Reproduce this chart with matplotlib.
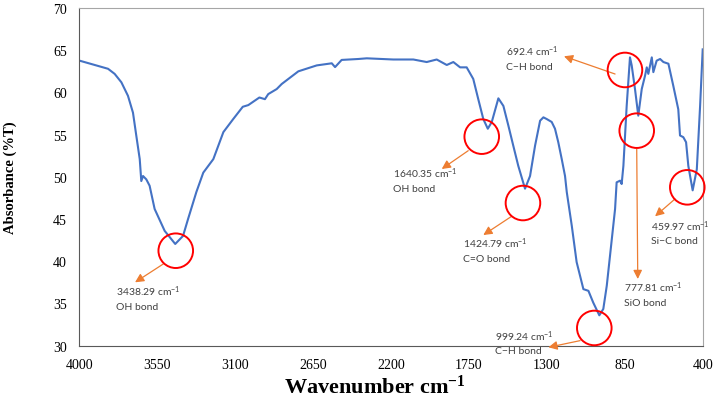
import matplotlib
matplotlib.use('Agg')
import matplotlib.pyplot as plt

# FTIR spectrum
wavenumber = [3998, 3863, 3834, 3796, 3757, 3719, 3690, 3671, 3651, 3642, 3632, 3613,
              3594, 3565, 3507, 3446, 3401, 3372, 3324, 3284, 3226, 3168, 3111, 3056,
              3024, 2960, 2928, 2909, 2860, 2831, 2735, 2629, 2542, 2523, 2485, 2389,
              2340, 2187, 2071, 1994, 1936, 1878, 1840, 1801, 1763, 1725, 1696, 1667,
              1641, 1618, 1580, 1551, 1522, 1494, 1465, 1426, 1397, 1368, 1339, 1320,
              1301, 1272, 1253, 1234, 1214, 1195, 1185, 1156, 1128, 1089, 1060, 1032,
              997, 974, 954, 925, 906, 897, 877, 868, 858, 839, 820, 810, 791, 772,
              752, 733, 723, 714, 694, 685, 666, 646, 627, 598, 570, 541, 531, 512,
              496, 483, 458, 434, 415, 400]
absorbance = [63.76, 62.97, 62.8, 62.2, 61.2, 59.6, 57.6, 54.9, 52.1, 49.5, 50.1, 49.7,
              48.95, 46.2, 43.6, 42.05, 43.0, 45.0, 48.2, 50.5, 52.1, 55.3, 56.85, 58.3,
              58.5, 59.4, 59.2, 59.8, 60.4, 61.0, 62.5, 63.2, 63.45, 63.0, 63.85, 63.96,
              64.04, 63.9, 63.9, 63.6, 63.9, 63.25, 63.6, 62.97, 62.97, 61.6, 59.2, 56.85,
              55.7, 56.5, 59.3, 58.4, 56.05, 53.7, 51.3, 48.6, 50.1, 53.7, 56.65, 57.05,
              56.85, 56.5, 55.7, 54.1, 52.1, 50.1, 48.2, 44.2, 39.9, 36.7, 36.5, 35.1,
              33.6, 34.35, 37.1, 42.6, 46.2, 49.35, 49.55, 49.15, 51.3, 58.4, 64.15, 63.2,
              60.4, 57.25, 60.4, 61.98, 62.97, 62.2, 64.15, 62.4, 63.76, 63.96, 63.6, 63.4,
              60.8, 58.0, 54.9, 54.7, 54.1, 51.3, 48.4, 50.9, 58.4, 65.1]

x_ticks = [4000, 3550, 3100, 2650, 2200, 1750, 1300, 850, 400]
y_ticks = [30, 35, 40, 45, 50, 55, 60, 65, 70]

# peak annotations: label, circle centre, arrow start, arrow tip, text anchor
labels = ['3438.29 cm$^{-1}$\nOH bond', '1640.35 cm$^{-1}$\nOH bond',
          '1424.79 cm$^{-1}$\nC=O bond', '692.4 cm$^{-1}$\nC\u2212H bond',
          '777.81 cm$^{-1}$\nSiO bond', '459.97 cm$^{-1}$\nSi\u2212C bond',
          '999.24 cm$^{-1}$\nC\u2212H bond']
circle_pos = [(3443, 41.25), (1676, 54.76), (1438, 46.9), (849, 62.66),
              (781, 55.47), (489, 48.76), (1026, 32.1)]
arrow_from = [(3515, 39.68), (1754, 53.10), (1503, 45.33), (906, 62.18),
              (781, 53.30), (560, 47.38), (1108, 30.60)]
arrow_to = [(3678, 37.51), (1907, 50.93), (1667, 43.11), (1201, 64.28),
            (775, 37.90), (675, 45.33), (1291, 29.81)]
text_pos = [(3788, 35.75), (2187, 49.71), (1782, 41.42), (1538, 64.2),
            (853, 36.24), (698, 43.48), (1599, 30.48)]

plt.rcParams['mathtext.default'] = 'regular'

fig = plt.figure(figsize=(7.16, 4.06), dpi=100)
ax = fig.add_axes([79.3 / 716, 1 - 346.7 / 406, 623.4 / 716, 337.7 / 406])

ax.plot(wavenumber, absorbance, color='#4472C4', lw=1.5)

ax.set_xlim(4000, 400)
ax.set_ylim(30, 70)
ax.set_xticks(x_ticks)
ax.set_yticks(y_ticks)
ax.tick_params(length=0, pad=9, labelsize=10)
for lab in ax.get_xticklabels() + ax.get_yticklabels():
    lab.set_family('Liberation Serif')

for side in ['left', 'bottom']:
    ax.spines[side].set_color('#595959')
for side in ['top', 'right']:
    ax.spines[side].set_color('#A6A6A6')

ax.set_ylabel('Absorbance (%T)', family='Liberation Serif', weight='bold', fontsize=10.5)
ax.yaxis.set_label_coords(-0.1, 0.5)
fig.text(0.523, 0.03, 'Wavenumber cm$^{-1}$', family='Liberation Serif', weight='bold',
         fontsize=16, ha='center', va='baseline')

for i in range(len(labels)):
    ax.scatter([circle_pos[i][0]], [circle_pos[i][1]], s=620, facecolors='none',
               edgecolors='#FF0000', linewidths=1.4, zorder=4, clip_on=False)
    ax.annotate('', xy=arrow_to[i], xytext=arrow_from[i],
                arrowprops=dict(arrowstyle='-|>', color='#ED7D31', lw=0.9,
                                mutation_scale=13, shrinkA=0, shrinkB=0),
                annotation_clip=False)
    ax.text(text_pos[i][0], text_pos[i][1], labels[i], family=['Lato', 'DejaVu Sans'],
            fontsize=7.5, color='#404040', ha='left', va='center', linespacing=1.5)

fig.savefig('out.png', dpi=100)
